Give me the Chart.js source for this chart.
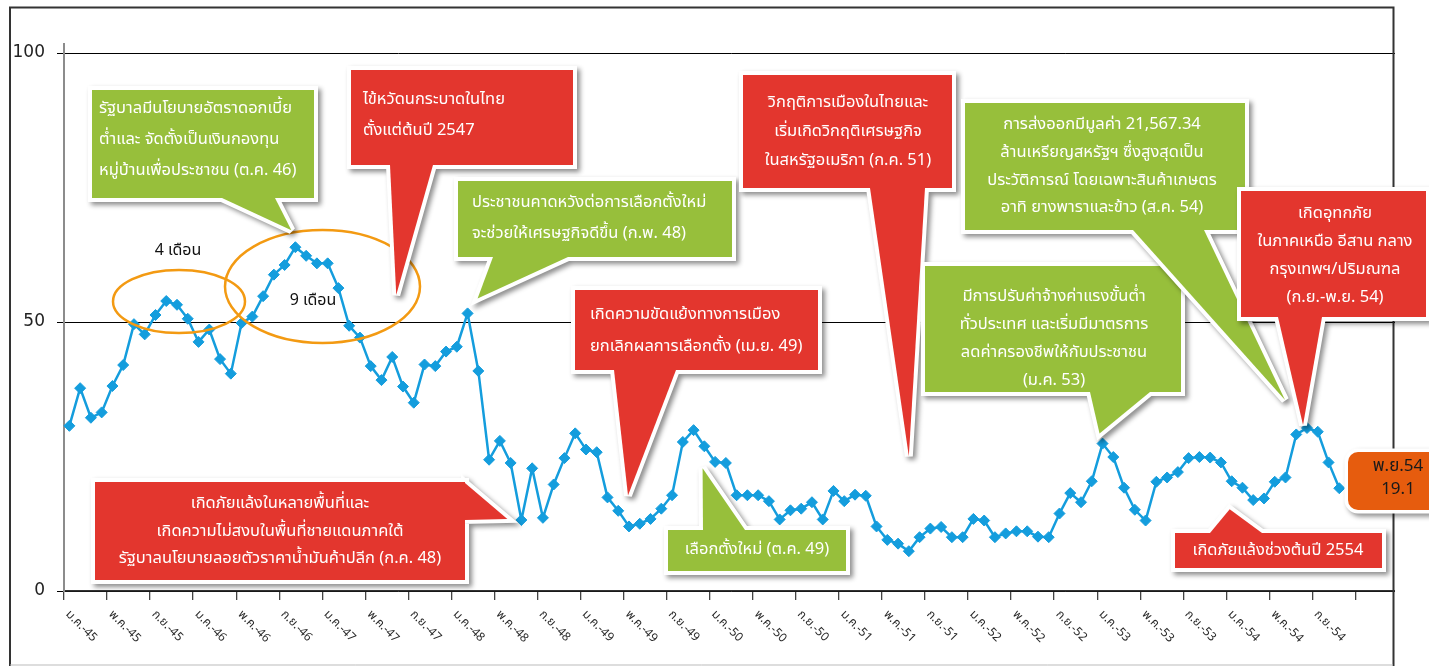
<!DOCTYPE html>
<html>
<head>
<meta charset="utf-8">
<script src="https://cdn.jsdelivr.net/npm/chart.js@4.4.1/dist/chart.umd.min.js"></script>
<style>
  html, body { margin: 0; padding: 0; background: #fff; }
  #wrap { width: 1429px; height: 666px; position: relative; }
</style>
</head>
<body>
<div id="wrap"><canvas id="chart"></canvas></div>
<script>
// === Datos ===
const monthNames = ['ม.ค.', 'ก.พ.', 'มี.ค.', 'เม.ย.', 'พ.ค.', 'มิ.ย.', 'ก.ค.', 'ส.ค.', 'ก.ย.', 'ต.ค.', 'พ.ย.', 'ธ.ค.'];
const yearNames = ['45', '46', '47', '48', '49', '50', '51', '52', '53', '54', '55'];

// monthly index, ม.ค.-45 ... พ.ย.-54
const values = [
    30.7, 37.7, 32.2, 33.2, 38.1, 42.0, 49.6, 47.7, 51.3, 53.9, 53.2, 50.6,
    46.3, 48.6, 43.1, 40.4, 49.8, 51.0, 54.8, 58.8, 60.6, 63.9, 62.3, 60.9,
    60.9, 56.3, 49.3, 47.1, 41.8, 39.2, 43.5, 38.0, 35.0, 42.1, 41.8, 44.5,
    45.4, 51.6, 40.9, 24.4, 27.9, 23.8, 13.2, 22.8, 13.6, 19.8, 24.7, 29.3,
    26.3, 25.8, 17.4, 14.9, 12.0, 12.5, 13.4, 15.3, 17.8, 27.7, 29.9, 26.9,
    24.0, 23.8, 17.8, 17.8, 17.8, 16.7, 13.3, 15.0, 15.3, 16.5, 13.3, 18.6,
    16.7, 17.9, 17.7, 12.0, 9.5, 8.8, 7.4, 10.0, 11.6, 11.9, 10.0, 10.0,
    13.4, 13.1, 10.0, 10.7, 11.1, 11.1, 10.1, 10.0, 14.4, 18.2, 16.5, 20.4,
    27.4, 24.9, 19.2, 15.1, 13.1, 20.3, 21.1, 22.1, 24.7, 24.9, 24.8, 23.9,
    20.4, 19.2, 16.9, 17.2, 20.3, 21.1, 29.1, 30.3, 29.6, 23.9, 19.1
];

const tickLabels = [
    'ม.ค.-45', 'พ.ค.-45', 'ก.ย.-45', 'ม.ค.-46', 'พ.ค.-46', 'ก.ย.-46',
    'ม.ค.-47', 'พ.ค.-47', 'ก.ย.-47', 'ม.ค.-48', 'พ.ค.-48', 'ก.ย.-48',
    'ม.ค.-49', 'พ.ค.-49', 'ก.ย.-49', 'ม.ค.-50', 'พ.ค.-50', 'ก.ย.-50',
    'ม.ค.-51', 'พ.ค.-51', 'ก.ย.-51', 'ม.ค.-52', 'พ.ค.-52', 'ก.ย.-52',
    'ม.ค.-53', 'พ.ค.-53', 'ก.ย.-53', 'ม.ค.-54', 'พ.ค.-54', 'ก.ย.-54'
];
const yTicks = [0, 50, 100];

// axis runs a few empty months past the last value
const categories = [];
for (const y of yearNames) {
    for (const m of monthNames) categories.push(`${m}-${y}`);
}
categories.length = 124;

// === Cuadros de texto (layout) ===
const GREEN = '#97bf3b';
const RED = '#e3362e';
const thaiFont = "Tahoma, 'Noto Sans Thai', 'Noto Sans Thai UI', Loma, Garuda, 'DejaVu Sans', sans-serif";

const callouts = [
    { color: GREEN, x: 92, y: 90, w: 222, h: 108, base: [222, 198, 275, 198], tip: { i: 21, dx: -4, dy: -17 },
      align: 'left', tx: 99, ty: 110, lh: 31,
      lines: ['รัฐบาลมีนโยบายอัตราดอกเบี้ย', 'ต่ำและ จัดตั้งเป็นเงินกองทุน', 'หมู่บ้านเพื่อประชาชน (ต.ค. 46)'] },
    { color: RED, x: 351, y: 70, w: 222, h: 95, base: [390, 165, 433, 165], tip: { i: 30, dx: 4, dy: -62 },
      align: 'left', tx: 363, ty: 101, lh: 31,
      lines: ['ไข้หวัดนกระบาดในไทย', 'ตั้งแต่ต้นปี 2547'] },
    { color: GREEN, x: 458, y: 181, w: 274, h: 76, base: [493, 257, 568, 257], tip: { i: 37, dx: 10, dy: -15 },
      align: 'left', tx: 472, ty: 204, lh: 31,
      lines: ['ประชาชนคาดหวังต่อการเลือกตั้งใหม่', 'จะช่วยให้เศรษฐกิจดีขึ้น (ก.พ. 48)'] },
    { color: RED, x: 575, y: 290, w: 243, h: 80, base: [614, 370, 676, 370], tip: { i: 52, dx: -1, dy: -31 },
      align: 'left', tx: 590, ty: 316, lh: 32,
      lines: ['เกิดความขัดแย้งทางการเมือง', 'ยกเลิกผลการเลือกตั้ง (เม.ย. 49)'] },
    { color: RED, x: 743, y: 75, w: 209, h: 113, base: [870, 188, 925, 188], tip: { i: 78, dx: 0, dy: -95 },
      align: 'center', tx: 848, ty: 104, lh: 29,
      lines: ['วิกฤติการเมืองในไทยและ', 'เริ่มเกิดวิกฤติเศรษฐกิจ', 'ในสหรัฐอเมริกา (ก.ค. 51)'] },
    { color: GREEN, x: 925, y: 266, w: 256, h: 126, base: [1090, 392, 1150, 392], tip: { i: 96, dx: -3, dy: -10 },
      align: 'center', tx: 1054, ty: 298, lh: 27.8,
      lines: ['มีการปรับค่าจ้างค่าแรงขั้นต่ำ', 'ทั่วประเทศ และเริ่มมีมาตรการ', 'ลดค่าครองชีพให้กับประชาชน', '(ม.ค. 53)'] },
    { color: GREEN, x: 965, y: 103, w: 280, h: 127, base: [1133, 230, 1204, 230], tip: { i: 115, dx: -22, dy: -28 },
      align: 'center', tx: 1102, ty: 126, lh: 27.6,
      lines: ['การส่งออกมีมูลค่า 21,567.34', 'ล้านเหรียญสหรัฐฯ ซึ่งสูงสุดเป็น', 'ประวัติการณ์ โดยเฉพาะสินค้าเกษตร', 'อาทิ ยางพาราและข้าว (ส.ค. 54)'] },
    { color: RED, x: 1241, y: 191, w: 185, h: 126, base: [1278, 317, 1322, 317], tip: { i: 115, dx: -4, dy: -3 },
      align: 'center', tx: 1335, ty: 215, lh: 28,
      lines: ['เกิดอุทกภัย', 'ในภาคเหนือ อีสาน กลาง', 'กรุงเทพฯ/ปริมณฑล', '(ก.ย.-พ.ย. 54)'] },
    { color: RED, x: 95, y: 482, w: 370, h: 98, base: [465, 483, 465, 520], tip: { i: 42, dx: -14, dy: -1 },
      align: 'center', tx: 280, ty: 505, lh: 27.5,
      lines: ['เกิดภัยแล้งในหลายพื้นที่และ', 'เกิดความไม่สงบในพื้นที่ชายแดนภาคใต้', 'รัฐบาลนโยบายลอยตัวราคาน้ำมันค้าปลีก (ก.ค. 48)'] },
    { color: GREEN, x: 668, y: 530, w: 178, h: 41, base: [703, 530, 745, 530], tip: { i: 58, dx: 9, dy: 38 },
      align: 'center', tx: 757, ty: 551, lh: 28,
      lines: ['เลือกตั้งใหม่ (ต.ค. 49)'] },
    { color: RED, x: 1175, y: 533, w: 207, h: 35, base: [1210, 533, 1262, 533], tip: { i: 108, dx: -2, dy: 28 },
      align: 'center', tx: 1278, ty: 552, lh: 28,
      lines: ['เกิดภัยแล้งช่วงต้นปี 2554'] }
];

const periodMarks = [
    { cx: 179, cy: 301.5, rx: 66, ry: 31.5, text: '4 เดือน', tx: 178, ty: 252 },
    { cx: 322.5, cy: 286.5, rx: 97.5, ry: 56.5, text: '9 เดือน', tx: 313, ty: 302 }
];

// === Dibujo de los cuadros ===
function drawCallout(ctx, c, pt) {
    const p = pt(c.tip.i);
    const tx = p.x + c.tip.dx;
    const ty = p.y + c.tip.dy;
    ctx.save();
    ctx.beginPath();
    ctx.rect(c.x, c.y, c.w, c.h);
    ctx.moveTo(c.base[0], c.base[1]);
    ctx.lineTo(tx, ty);
    ctx.lineTo(c.base[2], c.base[3]);
    ctx.closePath();
    ctx.shadowColor = 'rgba(0,0,0,0.45)';
    ctx.shadowBlur = 5;
    ctx.shadowOffsetX = 3;
    ctx.shadowOffsetY = 3;
    ctx.lineJoin = 'miter';
    ctx.miterLimit = 3;
    ctx.lineWidth = 8;
    ctx.strokeStyle = '#fff';
    ctx.stroke();
    ctx.shadowColor = 'rgba(0,0,0,0)';
    ctx.fillStyle = c.color;
    ctx.fillRect(c.x, c.y, c.w, c.h);
    ctx.beginPath();
    ctx.moveTo(c.base[0], c.base[1]);
    ctx.lineTo(tx, ty);
    ctx.lineTo(c.base[2], c.base[3]);
    ctx.closePath();
    ctx.fill();

    ctx.fillStyle = '#fff';
    ctx.font = `16.5px ${thaiFont}`;
    ctx.textAlign = c.align;
    ctx.textBaseline = 'middle';
    c.lines.forEach((l, k) => ctx.fillText(l, c.tx, c.ty + k * c.lh, c.w - 12));
    ctx.restore();
}

const decorPlugin = {
    id: 'decor',
    afterDatasetsDraw(chart) {
        const ctx = chart.ctx;
        const xs = chart.scales.x;
        const ys = chart.scales.y;
        const pt = i => ({ x: xs.getPixelForValue(i), y: ys.getPixelForValue(values[i]) });
        const half = (xs.getPixelForValue(1) - xs.getPixelForValue(0)) / 2;

        ctx.save();
        // borde exterior
        ctx.fillStyle = '#fff';
        ctx.fillRect(1395, 0, 34, 666);
        ctx.strokeStyle = '#333';
        ctx.lineWidth = 2;
        ctx.beginPath();
        ctx.moveTo(10, 666);
        ctx.lineTo(10, 7.5);
        ctx.lineTo(1393.5, 7.5);
        ctx.lineTo(1393.5, 666);
        ctx.stroke();
        ctx.strokeStyle = '#bbb';
        ctx.lineWidth = 1;
        ctx.beginPath();
        ctx.moveTo(10, 665);
        ctx.lineTo(1393, 665);
        ctx.stroke();

        // eje y un poco mas alto
        ctx.strokeStyle = '#8c8c8c';
        ctx.lineWidth = 2;
        ctx.beginPath();
        ctx.moveTo(xs.left, ys.top);
        ctx.lineTo(xs.left, ys.top - 10);
        ctx.stroke();

        // etiquetas del eje x, giradas
        ctx.fillStyle = '#2a2a2a';
        ctx.font = `12px ${thaiFont}`;
        ctx.textAlign = 'left';
        ctx.textBaseline = 'middle';
        tickLabels.forEach(lbl => {
            const idx = categories.indexOf(lbl);
            const bx = xs.getPixelForValue(idx) - half;
            ctx.save();
            ctx.translate(bx + 3, 613);
            ctx.rotate(Math.PI / 4);
            ctx.fillText(lbl, 0, 0);
            ctx.restore();
        });

        // elipses
        periodMarks.forEach(m => {
            ctx.strokeStyle = '#f39a12';
            ctx.lineWidth = 2.5;
            ctx.beginPath();
            ctx.ellipse(m.cx, m.cy, m.rx, m.ry, 0, 0, Math.PI * 2);
            ctx.stroke();
            ctx.fillStyle = '#111';
            ctx.font = `16px ${thaiFont}`;
            ctx.textAlign = 'center';
            ctx.textBaseline = 'middle';
            ctx.fillText(m.text, m.tx, m.ty);
        });

        callouts.forEach(c => drawCallout(ctx, c, pt));

        // ultimo valor
        const last = values.length - 1;
        const bx = 1348, by = 452, bw = 100, bh = 58;
        ctx.save();
        ctx.beginPath();
        ctx.roundRect(bx, by, bw, bh, 10);
        ctx.shadowColor = 'rgba(0,0,0,0.45)';
        ctx.shadowBlur = 5;
        ctx.shadowOffsetX = 3;
        ctx.shadowOffsetY = 3;
        ctx.lineWidth = 7;
        ctx.strokeStyle = '#fff';
        ctx.stroke();
        ctx.shadowColor = 'rgba(0,0,0,0)';
        ctx.fillStyle = '#e65c0e';
        ctx.fill();
        ctx.restore();
        ctx.fillStyle = '#1a1a1a';
        ctx.font = `17px ${thaiFont}`;
        ctx.textAlign = 'center';
        ctx.textBaseline = 'middle';
        ctx.fillText(categories[last].replace('-', ''), 1398, 468);
        ctx.fillText(values[last].toFixed(1), 1398, 491);

        ctx.restore();
    }
};

// === Gráfica ===
const chart = new Chart(document.getElementById('chart'), {
    type: 'line',
    data: {
        labels: categories,
        datasets: [{
            data: values,
            borderColor: '#149ddd',
            backgroundColor: '#149ddd',
            borderWidth: 2.5,
            pointStyle: 'rectRot',
            pointRadius: 5.5,
            pointBorderWidth: 1,
            pointBackgroundColor: '#149ddd',
            pointBorderColor: '#149ddd',
            tension: 0
        }]
    },
    options: {
        responsive: true,
        maintainAspectRatio: false,
        animation: false,
        layout: { padding: { top: 53, right: 30.5, left: 0, bottom: 0 } },
        plugins: {
            legend: { display: false },
            tooltip: { enabled: false }
        },
        scales: {
            x: {
                type: 'category',
                offset: true,
                afterFit: s => { s.height = 75; },
                ticks: { display: false, autoSkip: false },
                grid: {
                    offset: true,
                    drawOnChartArea: false,
                    tickLength: 9,
                    lineWidth: 1.3,
                    color: c => (c.index % 4 === 0 ? '#444' : 'rgba(0,0,0,0)')
                },
                border: { color: '#333', width: 1.5 }
            },
            y: {
                min: 0,
                max: 100,
                afterFit: s => { s.width = 64; },
                afterBuildTicks: s => { s.ticks = yTicks.map(v => ({ value: v })); },
                ticks: {
                    color: '#222',
                    padding: 12,
                    font: { family: 'Tahoma, "DejaVu Sans", sans-serif', size: 17 }
                },
                grid: { color: '#000', lineWidth: 1, tickLength: 7 },
                border: { color: '#8c8c8c', width: 2 }
            }
        }
    },
    plugins: [decorPlugin]
});
</script>
</body>
</html>
